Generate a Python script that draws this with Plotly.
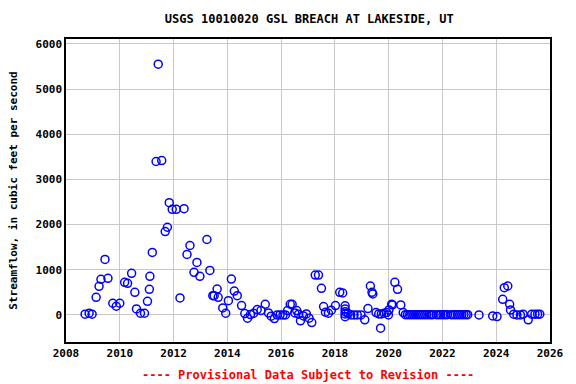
import plotly.graph_objects as go

# Decimal years and streamflow (cfs)
years = [
    2008.71, 2008.86, 2008.97, 2009.12, 2009.23, 2009.30, 2009.45, 2009.56, 2009.74, 2009.87,
    2010.00, 2010.18, 2010.29, 2010.44, 2010.56, 2010.62, 2010.77, 2010.92, 2011.03, 2011.10,
    2011.12, 2011.21, 2011.35, 2011.43, 2011.56, 2011.69, 2011.77, 2011.84, 2011.95, 2012.10,
    2012.24, 2012.39, 2012.50, 2012.61, 2012.76, 2012.87, 2012.98, 2013.24, 2013.35, 2013.46,
    2013.51, 2013.62, 2013.66, 2013.83, 2013.94, 2014.04, 2014.15, 2014.26, 2014.37, 2014.53,
    2014.65, 2014.75, 2014.86, 2014.98, 2015.11, 2015.25, 2015.41, 2015.53, 2015.63, 2015.75,
    2015.85, 2015.96, 2016.07, 2016.16, 2016.24, 2016.34, 2016.41, 2016.51, 2016.58, 2016.65,
    2016.72, 2016.83, 2016.94, 2017.04, 2017.14, 2017.27, 2017.39, 2017.50, 2017.58, 2017.65,
    2017.76, 2017.87, 2018.02, 2018.18, 2018.29, 2018.38, 2018.38, 2018.38, 2018.38, 2018.38,
    2018.49, 2018.59, 2018.71, 2018.83, 2018.97, 2019.11, 2019.23, 2019.32, 2019.38, 2019.41,
    2019.53, 2019.63, 2019.70, 2019.73, 2019.83, 2019.92, 2019.99, 2020.01, 2020.11, 2020.14,
    2020.23, 2020.33, 2020.45, 2020.54, 2020.62, 2020.70, 2020.78, 2020.86, 2020.94, 2021.02,
    2021.10, 2021.18, 2021.26, 2021.34, 2021.42, 2021.50, 2021.58, 2021.64, 2021.78, 2021.86,
    2021.94, 2022.02, 2022.10, 2022.18, 2022.32, 2022.40, 2022.48, 2022.56, 2022.64, 2022.72,
    2022.80, 2022.88, 2022.94, 2023.36, 2023.87, 2024.03, 2024.24, 2024.30, 2024.43, 2024.50,
    2024.53, 2024.65, 2024.77, 2024.90, 2025.00, 2025.19, 2025.32, 2025.44, 2025.54, 2025.62,
]
flow = [
    15, 37, 15, 390, 633, 787, 1228, 809, 258, 192,
    258, 721, 699, 920, 500, 132, 37, 37, 302, 567,
    854, 1383, 3397, 5553, 3419, 1846, 1941, 2486, 2338, 2338,
    375, 2353, 1339, 1537, 942, 1162, 854, 1670, 986, 426,
    426, 573, 390, 154, 37, 316, 794, 529, 426, 206,
    29, -73, 7, 37, 117, 95, 236, 44, -29, -81,
    0, 0, 0, 0, 95, 236, 236, 44, 95, 15,
    -132, -22, 22, -73, -170, 882, 882, 589, 184, 59,
    37, 103, 206, 500, 485, 200, 130, 70, 20, -40,
    30, 0, 0, 0, 0, -110, 140, 640, 500, 463,
    51, 22, -293, 22, 37, 51, 0, 110, 236, 220,
    721, 567, 221, 51, 5, 5, 5, 5, 5, 5,
    5, 5, 5, 5, 5, 5, 5, 5, 5, 5,
    5, 5, 5, 5, 5, 5, 5, 5, 5, 5,
    5, 5, 5, 0, -22, -37, 346, 602, 640, 236,
    110, 15, 0, 0, 15, -110, 15, 15, 15, 15,
]

x_ticks = [2008, 2010, 2012, 2014, 2016, 2018, 2020, 2022, 2024, 2026]
y_ticks = [0, 1000, 2000, 3000, 4000, 5000, 6000]

title_text = "USGS 10010020 GSL BREACH AT LAKESIDE, UT"
y_title = "Streamflow, in cubic feet per second"
note_text = "---- Provisional Data Subject to Revision ----"

font_fam = "DejaVu Sans Mono"

fig = go.Figure()
fig.add_trace(go.Scatter(
    x=years, y=flow, mode="markers",
    marker=dict(symbol="circle-open", size=8, color="#0000FF",
                line=dict(color="#0000FF", width=1.5)),
    showlegend=False,
))

fig.update_layout(
    width=576, height=384,
    margin=dict(l=65, r=22, t=39, b=42),
    paper_bgcolor="white", plot_bgcolor="white",
    title=dict(text="<b>" + title_text + "</b>", x=0.537, xanchor="center",
               y=0.95, yanchor="middle",
               font=dict(family=font_fam, size=12, color="black")),
    xaxis=dict(range=[2008, 2026], tickvals=x_ticks,
               ticktext=["<b>%d</b>" % v for v in x_ticks],
               showgrid=True, gridcolor="#c8c8c8", gridwidth=1,
               zeroline=False, showline=True, linecolor="black", linewidth=1.5,
               mirror=True, ticks="", tickfont=dict(family=font_fam, size=11, color="black")),
    yaxis=dict(range=[-600, 6110], tickvals=y_ticks,
               ticktext=["<b>%d</b>" % v for v in y_ticks],
               showgrid=True, gridcolor="#c8c8c8", gridwidth=1,
               zeroline=False, showline=True, linecolor="black", linewidth=1.5,
               mirror=True, ticks="", tickfont=dict(family=font_fam, size=11, color="black"),
               title=dict(text="<b>" + y_title + "</b>", standoff=16,
                          font=dict(family=font_fam, size=11, color="black"))),
    annotations=[dict(text="<b>" + note_text + "</b>", xref="paper", yref="paper",
                      x=0.5, y=-0.108, xanchor="center", yanchor="middle", showarrow=False,
                      font=dict(family=font_fam, size=12, color="red"))],
)

fig.write_html("out.html", config={"displayModeBar": False},
               post_script="document.body.style.margin='0px';document.body.style.overflow='hidden';")
